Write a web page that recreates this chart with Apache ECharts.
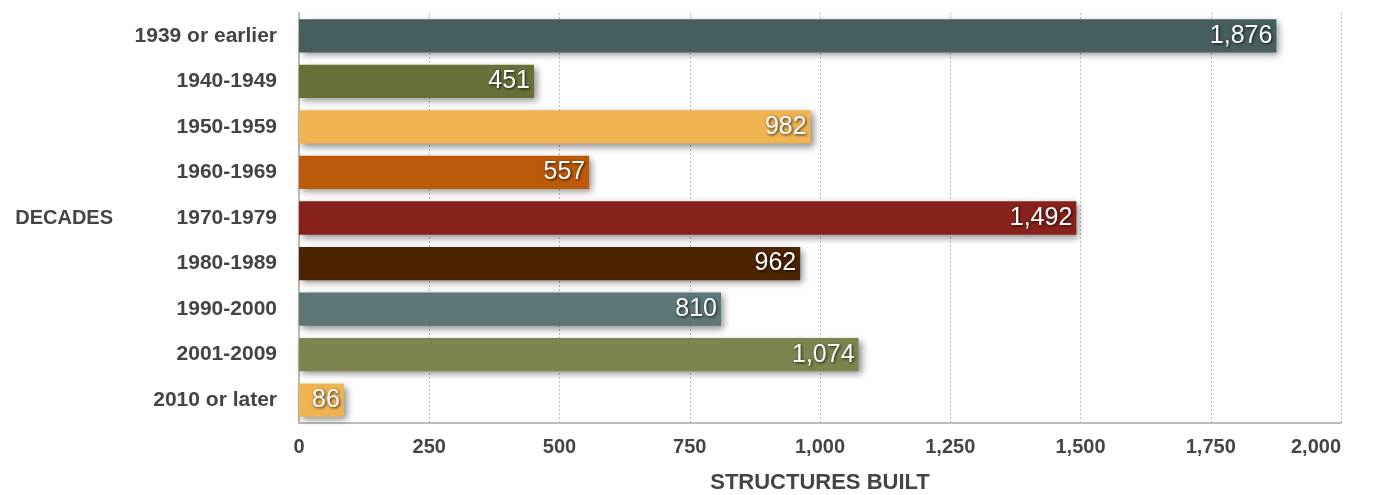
<!DOCTYPE html>
<html><head><meta charset="utf-8">
<script src="https://cdn.jsdelivr.net/npm/echarts@6/dist/echarts.min.js"></script>
<style>html,body{margin:0;padding:0;background:#fff}#c{width:1387px;height:495px}</style>
</head><body><div id="c"></div>
<script>
var categories = ['1939 or earlier','1940-1949','1950-1959','1960-1969','1970-1979','1980-1989','1990-2000','2001-2009','2010 or later'];
var values = [1876, 451, 982, 557, 1492, 962, 810, 1074, 86];
var colors = ['#475e5f','#6a6f3a','#efb352','#bc5a09','#87221c','#4c2401','#5d7677','#7f8350','#efb352'];
var xTicks = [0, 250, 500, 750, 1000, 1250, 1500, 1750, 2000];
var font = '"Liberation Sans", Arial, Helvetica, sans-serif';
var chart = echarts.init(document.getElementById('c'), null, {renderer:'canvas'});
chart.setOption({
  animation:false,
  grid:{left:299, right:46, top:13, bottom:72, containLabel:false, outerBoundsMode:'none'},
  xAxis:{type:'value', min:xTicks[0], max:xTicks[xTicks.length-1], interval:250,
    name:'STRUCTURES BUILT', nameLocation:'middle', nameGap:49,
    nameTextStyle:{fontFamily:font, fontWeight:'bold', fontSize:22, color:'#444'},
    axisLine:{show:true, lineStyle:{color:'#bbb', width:2}},
    axisTick:{show:false},
    axisLabel:{fontFamily:font, fontWeight:'bold', fontSize:20, color:'#444', margin:14,
      alignMaxLabel:'right',
      formatter:function(v){return v.toLocaleString('en-US');}},
    splitLine:{show:true, lineStyle:{color:'#bbb', type:[2,2], width:1}}
  },
  yAxis:{type:'category', data:categories, inverse:true,
    name:'DECADES', nameLocation:'middle', nameRotate:0, nameGap:186,
    nameTextStyle:{fontFamily:font, fontWeight:'bold', fontSize:20, color:'#444'},
    axisLine:{show:true, lineStyle:{color:'#bbb', width:2}},
    axisTick:{show:false},
    axisLabel:{fontFamily:font, fontWeight:'bold', fontSize:21, color:'#444', margin:22},
    splitLine:{show:false}
  },
  series:[{type:'bar', barCategoryGap:'27%',
    data:values.map(function(v,i){return {value:v, itemStyle:{color:colors[i]}};}),
    itemStyle:{shadowBlur:7, shadowOffsetX:3, shadowOffsetY:3, shadowColor:'rgba(0,0,0,0.45)'},
    label:{show:true, position:'insideRight', distance:4, fontFamily:font, fontSize:25, color:'#fff',
      textShadowColor:'rgba(0,0,0,0.8)', textShadowBlur:3, textShadowOffsetX:1, textShadowOffsetY:1,
      formatter:function(p){return p.value.toLocaleString('en-US');}}
  }]
});
</script></body></html>
